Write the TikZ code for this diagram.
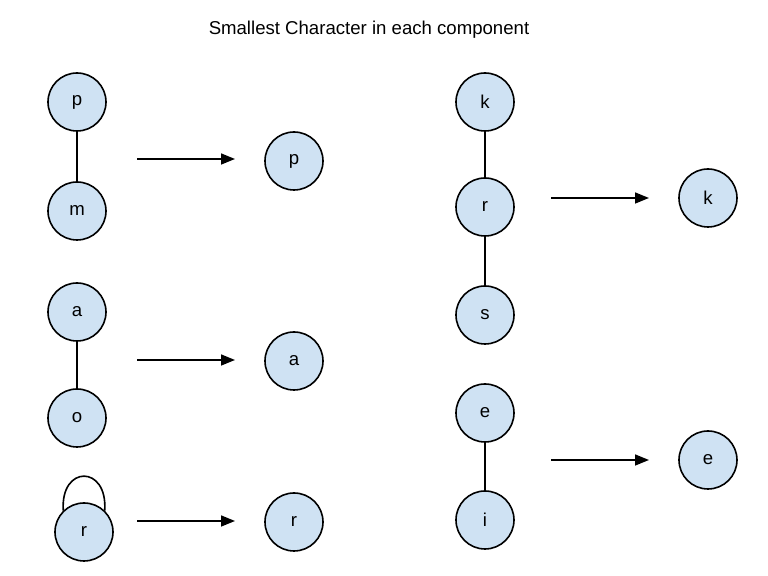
\documentclass[tikz,border=0pt]{standalone}
\usepackage{fontspec}
\setmainfont{Liberation Sans}
\usepackage{tikz}
\usetikzlibrary{arrows.meta}
\definecolor{nodeblue}{HTML}{CFE2F3}
\tikzstyle{vertex} = [draw, shape=circle, fill=nodeblue, minimum width=29pt, inner sep=0pt, line width=0.8pt, font=\fontsize{9.3}{11}\selectfont]
\tikzstyle{reduce} = [line width=0.8pt, -{Triangle[length=7pt,width=5.5pt]}]

\begin{document}
\begin{tikzpicture}[x=0.5pt, y=-0.5pt]
    \useasboundingbox (0,0) rectangle (768,576);
    \node[font=\fontsize{9.3}{11}\selectfont] (title) at (369,30) {Smallest Character in each component};
    % left column
    \draw (77,102) node[vertex] (p) {p};
    \draw (77,211) node[vertex] (m) {m};
    \draw (294,161) node[vertex] (pr) {p};
    \draw (77,312) node[vertex] (a) {a};
    \draw (77,418) node[vertex] (o) {o};
    \draw (294,361) node[vertex] (ar) {a};
    \draw (84,532) node[vertex] (r) {r};
    \draw (294,522) node[vertex] (rr) {r};
    % right column
    \draw (485,102) node[vertex] (k) {k};
    \draw (485,207) node[vertex] (r2) {r};
    \draw (485,315) node[vertex] (s) {s};
    \draw (708,198) node[vertex] (kr) {k};
    \draw (485,413) node[vertex] (e) {e};
    \draw (485,520) node[vertex] (i) {i};
    \draw (708,460) node[vertex] (er) {e};
    % edges
    \draw [line width=0.8pt] (p) -- (m);
    \draw [line width=0.8pt] (a) -- (o);
    \draw [line width=0.8pt] (r.134) to[out=94, in=86, distance=23pt] (r.46);
    \draw [line width=0.8pt] (k) -- (r2);
    \draw [line width=0.8pt] (r2) -- (s);
    \draw [line width=0.8pt] (e) -- (i);
    % arrows
    \coordinate (pm0) at (137,159); \coordinate (pm1) at (235,159);
    \coordinate (ao0) at (137,360); \coordinate (ao1) at (235,360);
    \coordinate (rl0) at (137,521); \coordinate (rl1) at (235,521);
    \coordinate (kr0) at (551,198); \coordinate (kr1) at (649,198);
    \coordinate (ei0) at (551,460); \coordinate (ei1) at (649,460);
    \draw [reduce] (pm0) -- (pm1);
    \draw [reduce] (ao0) -- (ao1);
    \draw [reduce] (rl0) -- (rl1);
    \draw [reduce] (kr0) -- (kr1);
    \draw [reduce] (ei0) -- (ei1);
\end{tikzpicture}
\end{document}
